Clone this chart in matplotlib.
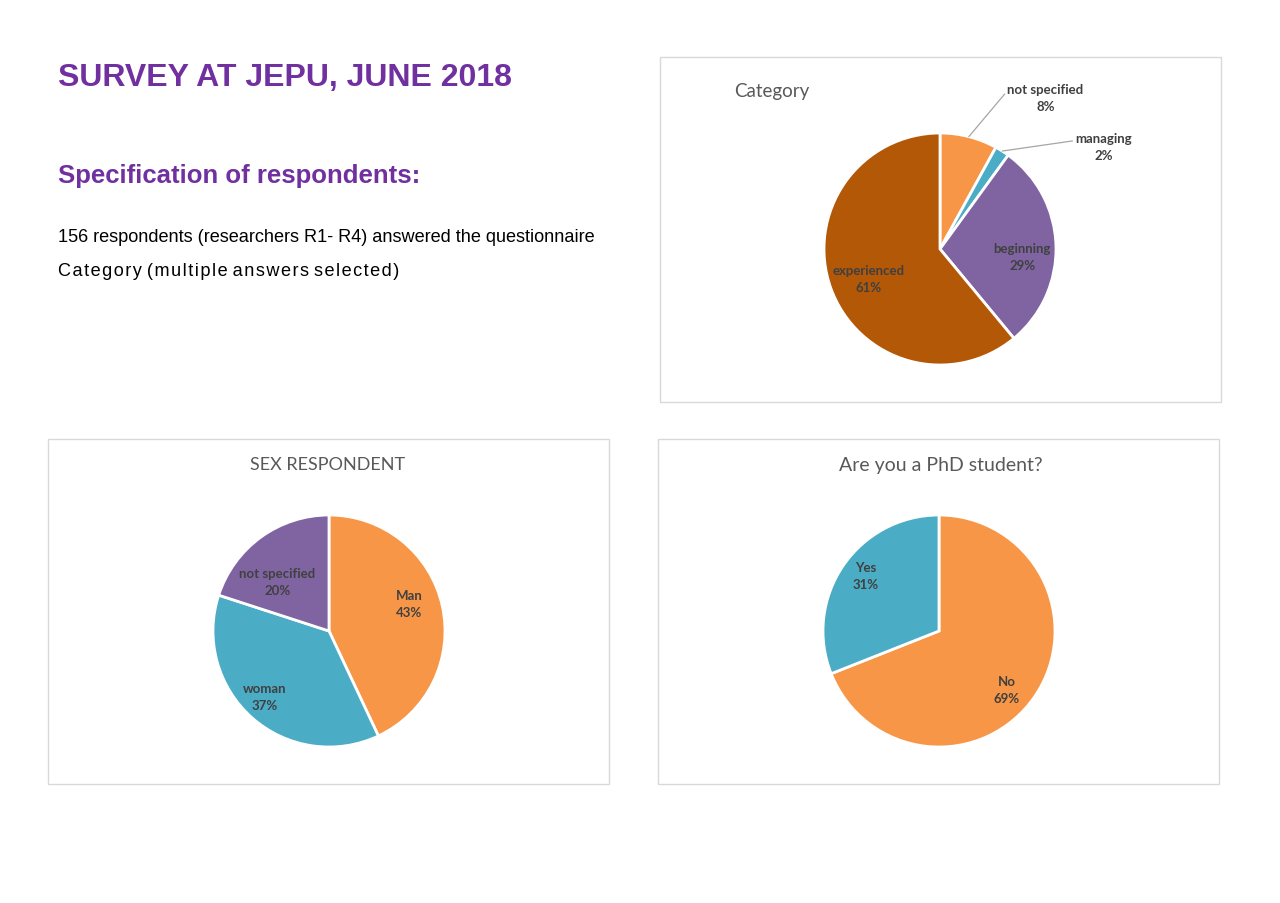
import matplotlib.pyplot as plt
import numpy as np
from matplotlib.patches import Rectangle

W, H = 1280, 904

# chart data
cat_labels = ['not specified', 'managing', 'beginning', 'experienced']
cat_values = [8, 2, 29, 61]
sex_labels = ['Man', 'woman', 'not specified']
sex_values = [43, 37, 20]
phd_labels = ['No', 'Yes']
phd_values = [69, 31]

ORANGE = '#F79646'
TEAL = '#4BACC6'
PURPLE = '#8064A2'
RUST = '#B35806'
PURPLE_TXT = '#7030A0'
LBL = '#404040'
CHART_FONT = ['Lato', 'DejaVu Sans']
BODY_FONT = ['Liberation Sans', 'DejaVu Sans']


def fx(px):
    return px / W


def fy(py):
    return 1 - py / H


def box(fig, x0, y0, x1, y1):
    fig.patches.append(Rectangle((fx(x0), fy(y1)), fx(x1) - fx(x0), fy(y0) - fy(y1),
                                 transform=fig.transFigure, fill=False,
                                 edgecolor='#D9D9D9', lw=1))


def pie_axes(fig, cx, cy, r):
    ax = fig.add_axes([fx(cx - r), fy(cy + r), 2 * r / W, 2 * r / H])
    return ax


def draw_pie(ax, values, colors):
    wedges, _ = ax.pie(values, colors=colors, startangle=90, counterclock=False,
                       radius=1, wedgeprops=dict(edgecolor='white', linewidth=2))
    ax.set_xlim(-1, 1)
    ax.set_ylim(-1, 1)
    ax.axis('off')
    return wedges


def inner_label(ax, w, text, d, shift=0):
    # label sits at distance d along the wedge middle (shifted a few degrees)
    mid = np.deg2rad((w.theta1 + w.theta2) / 2 + shift)
    ax.text(d * np.cos(mid), d * np.sin(mid), text, ha='center', va='center',
            fontsize=9.5, fontweight='bold', color=LBL, family=CHART_FONT,
            linespacing=1.5)


def graf():
    fig = plt.figure(figsize=(12.8, 9.04), dpi=100)
    fig.patch.set_facecolor('white')

    # left header text
    fig.text(fx(58), fy(78), 'SURVEY AT JEPU, JUNE 2018', ha='left', va='center',
             fontsize=23, fontweight='bold', color=PURPLE_TXT, family=BODY_FONT)
    fig.text(fx(58), fy(176), 'Specification of respondents:', ha='left', va='center',
             fontsize=18.5, fontweight='bold', color=PURPLE_TXT, family=BODY_FONT)
    fig.text(fx(58), fy(237), '156 respondents (researchers R1- R4) answered the questionnaire',
             ha='left', va='center', fontsize=13.1, color='black', family=BODY_FONT)
    fig.text(fx(58), fy(272), 'C a t e g o r y  ( m u l t i p l e  a n s w e r s  s e l e c t e d )'
             .replace(' ', '\u200a').replace('\u200a\u200a', ' '),
             ha='left', va='center', fontsize=13.1, color='black', family=BODY_FONT)

    box(fig, 660, 58, 1221, 403)
    box(fig, 48, 440, 609, 785)
    box(fig, 658, 440, 1219, 785)

    # Category
    fig.text(fx(772), fy(92), 'Category', ha='center', va='center', fontsize=13.5,
             color='#595959', family=CHART_FONT)
    ax1 = pie_axes(fig, 940, 250, 116)
    w1 = draw_pie(ax1, cat_values, [ORANGE, TEAL, PURPLE, RUST])
    inner_label(ax1, w1[2], f'{cat_labels[2]}\n{cat_values[2]}%', 0.71, -6.7)
    inner_label(ax1, w1[3], f'{cat_labels[3]}\n{cat_values[3]}%', 0.665, 3)
    outside = [(0.91, 1.31, (0.0, 0.72)), (1.41, 0.88, (0.0, 0.72))]
    for w, name, v, (tx, ty, rp) in zip(w1[:2], cat_labels[:2], cat_values[:2], outside):
        mid = np.deg2rad((w.theta1 + w.theta2) / 2)
        ax1.annotate(f'{name}\n{v}%', xy=(np.cos(mid), np.sin(mid)), xytext=(tx, ty),
                     ha='center', va='center', fontsize=9.5, fontweight='bold',
                     color=LBL, family=CHART_FONT, linespacing=1.5,
                     arrowprops=dict(arrowstyle='-', color='#A6A6A6', lw=0.9,
                                     shrinkA=0, shrinkB=0, relpos=rp))

    # SEX RESPONDENT
    fig.text(fx(328), fy(465), 'SEX RESPONDENT', ha='center', va='center', fontsize=13,
             color='#595959', family=CHART_FONT)
    ax2 = pie_axes(fig, 329, 632, 116)
    w2 = draw_pie(ax2, sex_values, [ORANGE, TEAL, PURPLE])
    for w, name, v, d, s in zip(w2, sex_labels, sex_values, [0.73, 0.787, 0.62], [6.7, -3.2, 10]):
        inner_label(ax2, w, f'{name}\n{v}%', d, s)

    # PhD
    fig.text(fx(941), fy(465), 'Are you a PhD student?', ha='center', va='center',
             fontsize=14, color='#595959', family=CHART_FONT)
    ax3 = pie_axes(fig, 939, 632, 116)
    w3 = draw_pie(ax3, phd_values, [ORANGE, TEAL])
    for w, name, v, d, s in zip(w3, phd_labels, phd_values, [0.77, 0.79], [-6.3, -2.8]):
        inner_label(ax3, w, f'{name}\n{v}%', d, s)

    fig.savefig('out.png', dpi=100, facecolor='white')


if __name__ == '__main__':
    graf()
